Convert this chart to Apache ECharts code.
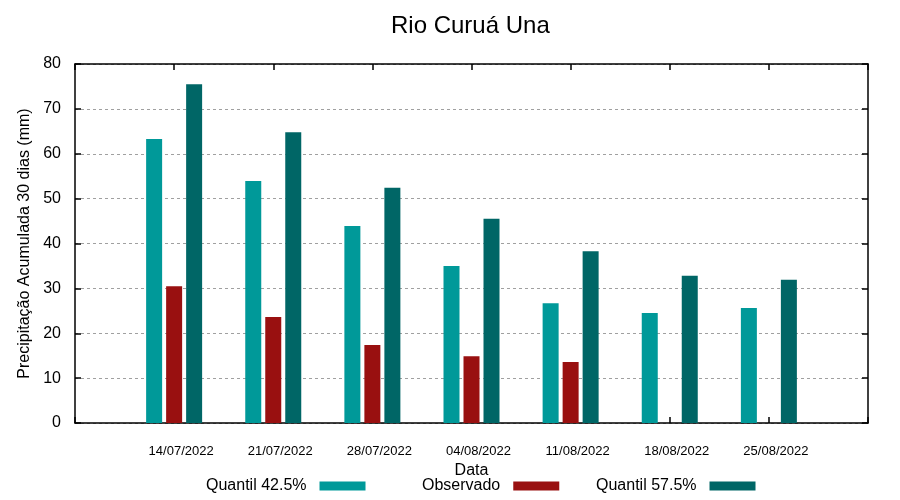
<!DOCTYPE html>
<html>
<head>
<meta charset="utf-8">
<script src="https://cdn.jsdelivr.net/npm/echarts@6/dist/echarts.min.js"></script>
<style>html,body{margin:0;padding:0;background:#fff}#c{width:900px;height:500px}</style>
</head>
<body>
<div id="c"></div>
<script>
var dates = ['14/07/2022','21/07/2022','28/07/2022','04/08/2022','11/08/2022','18/08/2022','25/08/2022'];
var q425 = [63.3, 53.9, 43.9, 35.0, 26.7, 24.5, 25.6];
var observado = [30.5, 23.6, 17.4, 14.9, 13.6, null, null];
var q575 = [75.5, 64.8, 52.4, 45.5, 38.3, 32.8, 31.9];
var yTicks = [0, 10, 20, 30, 40, 50, 60, 70, 80];

var FONT = 'Liberation Sans, Arial, sans-serif';
function pairs(arr) { return arr.map(function (v, i) { return [i, v == null ? '-' : v]; }); }

var chart = echarts.init(document.getElementById('c'), null, {renderer: 'canvas'});
var axisLineStyle = {color: '#000', width: 1.5};
var tickStyle = {show: true, inside: true, length: 6, lineStyle: {color: '#000', width: 1.5}};
function legendFor(name, left) {
  return {
    data: [name], left: left, top: 473, align: 'right', icon: 'rect',
    itemWidth: 46, itemHeight: 9, selectedMode: false,
    textStyle: {fontFamily: FONT, fontSize: 16, color: '#000', padding: [0, 8, 0, 0]}
  };
}
chart.setOption({
  animation: false,
  backgroundColor: '#fff',
  title: {
    text: 'Rio Curuá Una', left: 386, top: 9,
    textStyle: {fontFamily: FONT, fontSize: 24, fontWeight: 'normal', color: '#000'}
  },
  legend: [legendFor('Quantil 42.5%', 201), legendFor('Observado', 417), legendFor('Quantil 57.5%', 591)],
  grid: {left: 75, right: 32, top: 64, bottom: 77, containLabel: false},
  xAxis: [{
    type: 'value', min: -1, max: 7, interval: 1, position: 'bottom',
    name: 'Data', nameLocation: 'middle', nameGap: 36,
    nameTextStyle: {fontFamily: FONT, fontSize: 16, color: '#000'},
    axisLine: {show: true, onZero: false, lineStyle: axisLineStyle},
    axisTick: tickStyle,
    axisLabel: {
      fontFamily: FONT, fontSize: 13, color: '#000', margin: 22, padding: [0, 0, 0, 14],
      formatter: function (v) { return dates[v] || ''; }
    },
    splitLine: {show: false}
  }, {
    type: 'value', min: -1, max: 7, interval: 1, position: 'top',
    axisLine: {show: true, onZero: false, lineStyle: axisLineStyle},
    axisTick: tickStyle,
    axisLabel: {show: false}, splitLine: {show: false}
  }],
  yAxis: [{
    type: 'value', min: yTicks[0], max: yTicks[yTicks.length - 1], interval: 10, position: 'left',
    name: 'Precipitação Acumulada 30 dias (mm)', nameLocation: 'middle', nameGap: 42, nameRotate: 90,
    nameTextStyle: {fontFamily: FONT, fontSize: 16, color: '#000'},
    axisLine: {show: true, onZero: false, lineStyle: axisLineStyle},
    axisTick: tickStyle,
    axisLabel: {fontFamily: FONT, fontSize: 16, color: '#000', margin: 14},
    splitLine: {show: true, lineStyle: {color: '#a0a0a0', width: 1, type: [3, 3]}}
  }, {
    type: 'value', min: yTicks[0], max: yTicks[yTicks.length - 1], interval: 10, position: 'right',
    axisLine: {show: true, onZero: false, lineStyle: axisLineStyle},
    axisTick: tickStyle,
    axisLabel: {show: false}, splitLine: {show: false}
  }],
  series: [
    {name: 'Quantil 42.5%', type: 'bar', data: pairs(q425), barWidth: 16, barGap: '25%', itemStyle: {color: '#009999'}},
    {name: 'Observado', type: 'bar', data: pairs(observado), barWidth: 16, barGap: '25%', itemStyle: {color: '#991010'}},
    {name: 'Quantil 57.5%', type: 'bar', data: pairs(q575), barWidth: 16, barGap: '25%', itemStyle: {color: '#006666'}}
  ]
});
</script>
</body>
</html>
